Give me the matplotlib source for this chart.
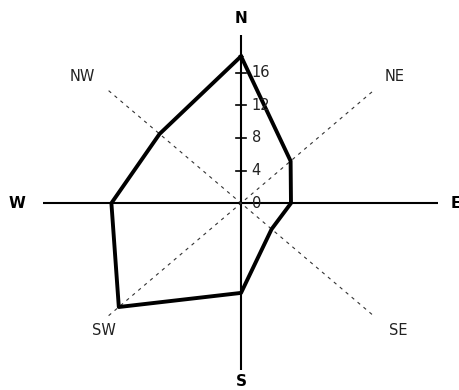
import numpy as np
import matplotlib
matplotlib.use('Agg')
import matplotlib.pyplot as plt

# wind rose values
directions = ['N', 'NE', 'E', 'SE', 'S', 'SW', 'W', 'NW']
values = [18, 7.3, 5.2, 4.5, 11, 18, 13.5, 12]
angles_deg = [90, 45, 0, -45, -90, -135, 180, 135]
ticks = [4, 8, 12, 16]
tick_labels = ['0', '4', '8', '12', '16']

fig = plt.figure(figsize=(4.6, 3.9), dpi=100)
ax = fig.add_axes([0, 0, 1, 1])
ax.set_xlim(-25.1, 22.8)
ax.set_ylim(-22.9, 24.9)
ax.axis('off')

# main axes
ax.plot([-20.6, 20.5], [0, 0], color='black', lw=1.5, solid_capstyle='butt')
ax.plot([0, 0], [-20.5, 20.6], color='black', lw=1.5, solid_capstyle='butt')

# diagonal dashed axes
d = 19.5 * np.cos(np.radians(45))
ax.plot([-d, d], [-d, d], color='#333333', lw=0.8, ls=(0, (3, 4)))
ax.plot([-d, d], [d, -d], color='#333333', lw=0.8, ls=(0, (3, 4)))

# tick marks on north axis
for t in ticks:
    ax.plot([-0.5, 0.5], [t, t], color='black', lw=1.2)
for i, lab in enumerate(tick_labels):
    ax.text(1.1, i * 4, lab, ha='left', va='center', fontsize=10.5, color='#222222')

# polygon
th = np.radians(angles_deg)
r = np.array(values)
px = r * np.cos(th)
py = r * np.sin(th)
px = np.append(px, px[0])
py = np.append(py, py[0])
ax.plot(px, py, color='black', lw=2.8, solid_joinstyle='round')

# direction labels
bold_pos = {'N': (0, 22.6), 'E': (22.4, 0), 'S': (0, -21.9), 'W': (-23.3, 0)}
for k, (x, y) in bold_pos.items():
    ax.text(x, y, k, ha='center', va='center', fontsize=11, fontweight='bold')
diag_pos = {'NW': (-16.5, 15.5), 'NE': (16.0, 15.5), 'SW': (-14.3, -15.6), 'SE': (16.4, -15.6)}
for k, (x, y) in diag_pos.items():
    ax.text(x, y, k, ha='center', va='center', fontsize=10.5, color='#222222')

fig.savefig('out.png', dpi=100)
